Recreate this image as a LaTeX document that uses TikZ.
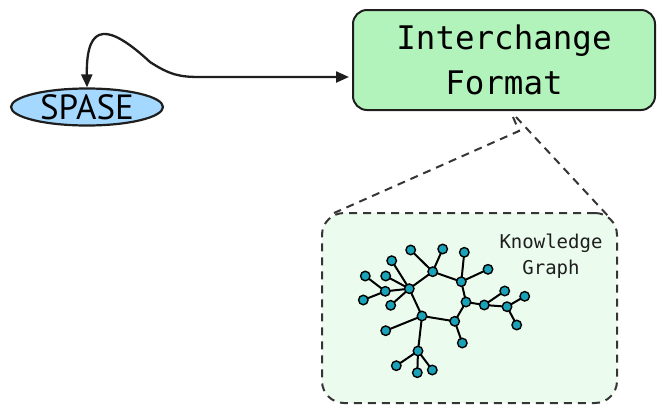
\documentclass[tikz,border=0pt]{standalone}
\usepackage{fontspec}
\usepackage{xcolor}
\usepackage{tikz}
\usetikzlibrary{shapes.geometric, arrows.meta, positioning, calc, backgrounds}
\newfontfamily\kgmono{DejaVu Sans Mono}
\newfontfamily\kgsans{PT Sans}
\definecolor{spaseblue}{HTML}{A5D8FF}
\definecolor{formatgreen}{HTML}{B2F2BB}
\definecolor{kgfill}{HTML}{EBFBEE}
\definecolor{dotteal}{HTML}{1AA3B8}
\definecolor{inkdark}{HTML}{1E1E1E}
\pgfdeclarelayer{edgelayer}
\pgfsetlayers{background,edgelayer,main}

\begin{document}
\begin{tikzpicture}[
    x=1pt, y=-1pt,
    spase/.style={ellipse, draw=inkdark, line width=2.2pt, fill=spaseblue, minimum width=152pt, minimum height=37pt, inner sep=0pt, font=\kgsans\fontsize{35}{35}\selectfont},
    fmtbox/.style={rectangle, rounded corners=14pt, draw=inkdark, line width=2pt, fill=formatgreen, minimum width=302pt, minimum height=100pt, align=center, font=\kgmono\fontsize{32.5}{45}\selectfont},
    kgbox/.style={rectangle, rounded corners=22pt, draw=inkdark!90, line width=2pt, dash pattern=on 8pt off 6pt, fill=kgfill, minimum width=295pt, minimum height=190pt},
    kglabel/.style={align=center, text=inkdark, font=\kgmono\fontsize{19}{26}\selectfont},
    dot/.style={circle, draw=black, line width=1.4pt, fill=dotteal, minimum size=9.5pt, inner sep=0pt},
    edge/.style={line width=2pt, black},
    link/.style={{Triangle[length=13pt,width=11pt]}-{Triangle[length=13pt,width=11pt]}, line width=2.3pt, inkdark},
    zoomline/.style={line width=2pt, inkdark!90, dash pattern=on 8pt off 6pt}
]
\useasboundingbox (0,0) rectangle (665,413);

% Main blocks
\node[spase] (spase) at (87,107) {SPASE};
\node[fmtbox] (format) at (504,60) {Interchange\\Format};
\begin{scope}[on background layer]
\node[kgbox] (kg) at (469.5,308) {};
\end{scope}
\node[kglabel] (kglab) at (551,256) {Knowledge\\Graph};

% Link between SPASE and the format
\draw[link] (spase.north) .. controls (86,20) and (110,25) .. (150,62)
    .. controls (170,75) and (180,77) .. (200,77) -- ([yshift=-17pt,xshift=-3pt]format.west);

% Zoom lines
\draw[zoomline] ([xshift=9pt,yshift=-6pt]format.south) -- ([xshift=15pt,yshift=-20pt]format.south) -- ([xshift=13pt,yshift=-1pt]kg.north west);
\draw[zoomline] ([xshift=12pt,yshift=-6pt]format.south) -- ([xshift=-9pt,yshift=-5pt]kg.north east);

% Graph dots
\foreach \i/\x/\y in {1/410.7/250, 2/442.7/249, 3/464.3/252.3, 4/391.7/260.7,
    5/488/269.3, 6/365.3/276, 7/385.7/276, 8/432.7/271.7, 9/461.3/281.7,
    10/385.3/291.3, 11/409.3/288.7, 12/363.3/300, 13/390.7/305.3,
    14/466/302, 15/484.3/305, 16/504.7/291, 17/524.7/296.3, 18/507/306.7,
    19/516.7/325, 20/422/316, 21/454.7/321.3, 22/385.7/330.7, 23/462.3/343,
    24/418/351, 25/396.3/365.7, 26/417.3/372.7, 27/432.3/370}
    \node[dot] (n\i) at (\x,\y) {};
% Graph edges
\begin{pgfonlayer}{edgelayer}
\foreach \a/\b in {n11/n8, n8/n9, n9/n14, n14/n21, n21/n20, n20/n11,
    n1/n8, n2/n8, n3/n9, n5/n9, n4/n11, n7/n11, n10/n11, n13/n11,
    n6/n10, n12/n10, n14/n15, n15/n16, n15/n18, n18/n17, n18/n19,
    n21/n23, n20/n22, n20/n24, n24/n25, n24/n26, n24/n27}
    \draw[edge] (\a.center) -- (\b.center);
\end{pgfonlayer}
\end{tikzpicture}
\end{document}
